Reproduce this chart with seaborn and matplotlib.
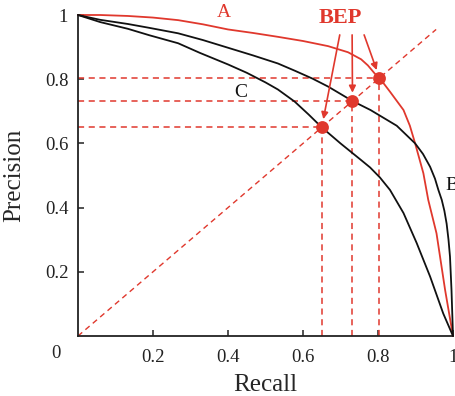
import numpy as np
import pandas as pd
import matplotlib
matplotlib.use("Agg")
import matplotlib.pyplot as plt
import seaborn as sns

# ---- data ----
recall_A = [0.0, 0.059, 0.133, 0.2, 0.267, 0.333, 0.4, 0.467, 0.533, 0.6, 0.667, 0.72, 0.755, 0.773, 0.791, 0.804, 0.832, 0.868, 0.885, 0.899, 0.921, 0.934, 0.956, 0.979, 1.0]
prec_A   = [1.0, 1.0, 0.997, 0.992, 0.984, 0.971, 0.955, 0.944, 0.932, 0.919, 0.903, 0.884, 0.862, 0.843, 0.818, 0.804, 0.761, 0.704, 0.655, 0.60, 0.507, 0.424, 0.32, 0.143, 0.0]

recall_B = [0.0, 0.059, 0.133, 0.19, 0.267, 0.333, 0.4, 0.467, 0.533, 0.579, 0.625, 0.667, 0.732, 0.78, 0.85, 0.899, 0.92, 0.939, 0.952, 0.961, 0.97, 0.977, 0.983, 0.988, 0.992, 0.996, 1.0]
prec_B   = [1.0, 0.985, 0.972, 0.96, 0.943, 0.922, 0.898, 0.874, 0.849, 0.826, 0.802, 0.777, 0.732, 0.704, 0.655, 0.60, 0.567, 0.527, 0.49, 0.455, 0.424, 0.39, 0.35, 0.30, 0.247, 0.143, 0.0]

recall_C = [0.0, 0.059, 0.133, 0.19, 0.267, 0.325, 0.4, 0.45, 0.5, 0.533, 0.578, 0.615, 0.65, 0.7, 0.755, 0.779, 0.805, 0.832, 0.868, 0.903, 0.939, 0.974, 1.0]
prec_C   = [1.0, 0.978, 0.957, 0.937, 0.912, 0.882, 0.846, 0.82, 0.79, 0.768, 0.73, 0.69, 0.65, 0.6, 0.548, 0.525, 0.494, 0.455, 0.383, 0.29, 0.185, 0.07, 0.0]

bep_values = [0.65, 0.732, 0.804]
diag_x = [0.0, 0.955]
arrow_start_x = [0.698, 0.731, 0.763]
arrow_start_y = 0.938

x_ticks = [0.2, 0.4, 0.6, 0.8, 1.0]
x_tick_labels = ["0.2", "0.4", "0.6", "0.8", "1"]
y_ticks = [0.2, 0.4, 0.6, 0.8, 1.0]
y_tick_labels = ["0.2", "0.4", "0.6", "0.8", "1"]

RED = "#e0382d"
BLACK = "#111111"

sns.set_style("ticks")
plt.rcParams["font.family"] = ["Liberation Serif", "DejaVu Serif"]

fig = plt.figure(figsize=(4.56, 3.96), dpi=100)
ax = fig.add_axes([78 / 456, 60 / 396, 375 / 456, 321 / 396])

curves = pd.concat([
    pd.DataFrame({"recall": recall_A, "precision": prec_A, "curve": "A"}),
    pd.DataFrame({"recall": recall_B, "precision": prec_B, "curve": "B"}),
    pd.DataFrame({"recall": recall_C, "precision": prec_C, "curve": "C"}),
])
sns.lineplot(data=curves, x="recall", y="precision", hue="curve",
             palette={"A": RED, "B": BLACK, "C": BLACK}, sort=False,
             estimator=None, linewidth=1.3, legend=False, ax=ax, clip_on=False, zorder=3)

# diagonal
sns.lineplot(x=diag_x, y=diag_x, color=RED, linestyle=(0, (4, 3)), linewidth=1.0,
             ax=ax, zorder=2)

# guide lines
for v in bep_values:
    ax.hlines(v, 0, v, colors=RED, linestyles=(0, (4, 3)), linewidth=1.1, zorder=2)
    ax.vlines(v, 0, v, colors=RED, linestyles=(0, (4, 3)), linewidth=1.1, zorder=2)

sns.scatterplot(x=bep_values, y=bep_values, color=RED, s=85, edgecolor=RED,
                linewidth=0, ax=ax, zorder=5, clip_on=False)

# arrows from BEP label
for sx, v in zip(arrow_start_x, bep_values):
    ax.annotate("", xy=(v, v), xytext=(sx, arrow_start_y),
                arrowprops=dict(arrowstyle="-|>", color=RED, lw=1.2,
                                mutation_scale=10, shrinkA=0, shrinkB=6),
                annotation_clip=False)

ax.text(0.699, 0.992, "BEP", color=RED, fontsize=16, fontweight="bold",
        ha="center", va="center", clip_on=False)
ax.text(0.389, 1.009, "A", color=RED, fontsize=14, ha="center", va="center", clip_on=False)
ax.text(0.435, 0.759, "C", color=BLACK, fontsize=14, ha="center", va="center")
ax.text(0.979, 0.469, "B", color=BLACK, fontsize=14, ha="left", va="center", clip_on=False)
ax.text(-0.059, -0.053, "0", fontsize=13.5, ha="center", va="center",
        transform=ax.transData, clip_on=False)

ax.set_xlim(0, 1)
ax.set_ylim(0, 1)
ax.set_xticks(x_ticks)
ax.set_xticklabels(x_tick_labels)
ax.set_yticks(y_ticks)
ax.set_yticklabels(y_tick_labels)
ax.tick_params(direction="in", length=4, width=1.1, labelsize=13.5, pad=7, colors="#222222")
ax.tick_params(axis="x", pad=9)
for s in ["top", "right"]:
    ax.spines[s].set_visible(False)
for s in ["left", "bottom"]:
    ax.spines[s].set_linewidth(1.3)
    ax.spines[s].set_color("#222222")
ax.set_xlabel("Recall", fontsize=18, labelpad=6)
ax.set_ylabel("Precision", fontsize=18, labelpad=14)

fig.savefig("out.png", dpi=100)
